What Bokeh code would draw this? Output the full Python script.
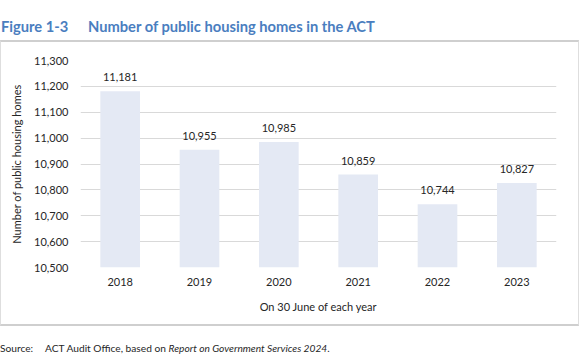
from bokeh.plotting import figure
from bokeh.models import ColumnDataSource, LabelSet, NumeralTickFormatter, FixedTicker, Range1d, Div
from bokeh.layouts import column
from bokeh.core.properties import value
from bokeh.embed import file_html
from bokeh.resources import INLINE

years = ["2018", "2019", "2020", "2021", "2022", "2023"]
homes = [11181, 10955, 10985, 10859, 10744, 10827]
labels = ["11,181", "10,955", "10,985", "10,859", "10,744", "10,827"]
y_ticks = [10500, 10600, 10700, 10800, 10900, 11000, 11100, 11200, 11300]

FONT = "Lato"
TEXT_C = "#262626"
TITLE_C = "#4a7ebf"
BOX_C = "#cfcfcf"

# figure canvas (inside bordered box)
W, H = 579, 286
FL, FR, FT, FB = 79, 555, 18, 225

src = ColumnDataSource(dict(year=years, homes=homes, label=labels))

p = figure(x_range=years, y_range=Range1d(10500, 11300), width=W, height=H,
           output_backend="svg", toolbar_location=None,
           min_border_left=FL, min_border_right=W - FR, min_border_top=FT, min_border_bottom=H - FB)
p.outline_line_color = None
p.background_fill_color = "white"
p.border_fill_color = "white"
p.margin = 0
p.styles = {"border-left": "1px solid #dedede", "border-right": "1px solid #dedede",
            "border-top": "2px solid " + BOX_C, "border-bottom": "2px solid " + BOX_C}

p.vbar(x="year", top="homes", bottom=10500, width=0.5, source=src, fill_color="#e4e9f4", line_color=None)

p.add_layout(LabelSet(x="year", y="homes", text="label", source=src, text_align="center",
                      text_baseline="bottom", y_offset=10, text_font=value(FONT), text_font_size="11px",
                      text_color=TEXT_C))

p.yaxis.ticker = FixedTicker(ticks=y_ticks)
p.yaxis.formatter = NumeralTickFormatter(format="0,0")
for ax in (p.xaxis, p.yaxis):
    ax.axis_line_color = None
    ax.major_tick_line_color = None
    ax.minor_tick_line_color = None
    ax.major_tick_out = 0
    ax.major_tick_in = 0
    ax.minor_tick_out = 0
    ax.major_label_text_font = FONT
    ax.major_label_text_font_size = "11px"
    ax.major_label_text_color = TEXT_C
    ax.axis_label_text_font = FONT
    ax.axis_label_text_font_size = "11px"
    ax.axis_label_text_font_style = "normal"
    ax.axis_label_text_color = TEXT_C
p.yaxis.axis_label = "Number of public housing homes"
p.xaxis.axis_label = "On 30 June of each year"
p.yaxis.major_label_standoff = 12
p.xaxis.major_label_standoff = 10
p.xaxis.axis_label_standoff = 11
p.yaxis.axis_label_standoff = 8
p.xgrid.grid_line_color = None
p.ygrid.grid_line_color = "#d9d9d9"
p.ygrid.grid_line_width = 1

title_html = (
    '<div style="padding-top:18px; padding-left:1px; font-family:Lato; font-size:14.7px; font-weight:bold; '
    'color:%s; line-height:16px; white-space:nowrap;">'
    '<span style="display:inline-block; width:87px;">Figure 1-3</span>'
    'Number of public housing homes in the ACT</div>' % TITLE_C
)
title_div = Div(text=title_html, width=581, height=40, margin=0)

source_html = (
    '<div style="padding-top:16px; padding-left:0px; font-family:Lato; font-size:10.2px; '
    'color:%s; line-height:12px; white-space:nowrap;">'
    '<span style="display:inline-block; width:45px;">Source:</span>'
    'ACT Audit Office, based on <i>Report on Government Services 2024</i>.</div>' % TEXT_C
)
source_div = Div(text=source_html, width=581, height=34, margin=0)

layout = column(title_div, p, source_div, margin=0, spacing=0)

open("out.html", "w").write(file_html(layout, INLINE))
